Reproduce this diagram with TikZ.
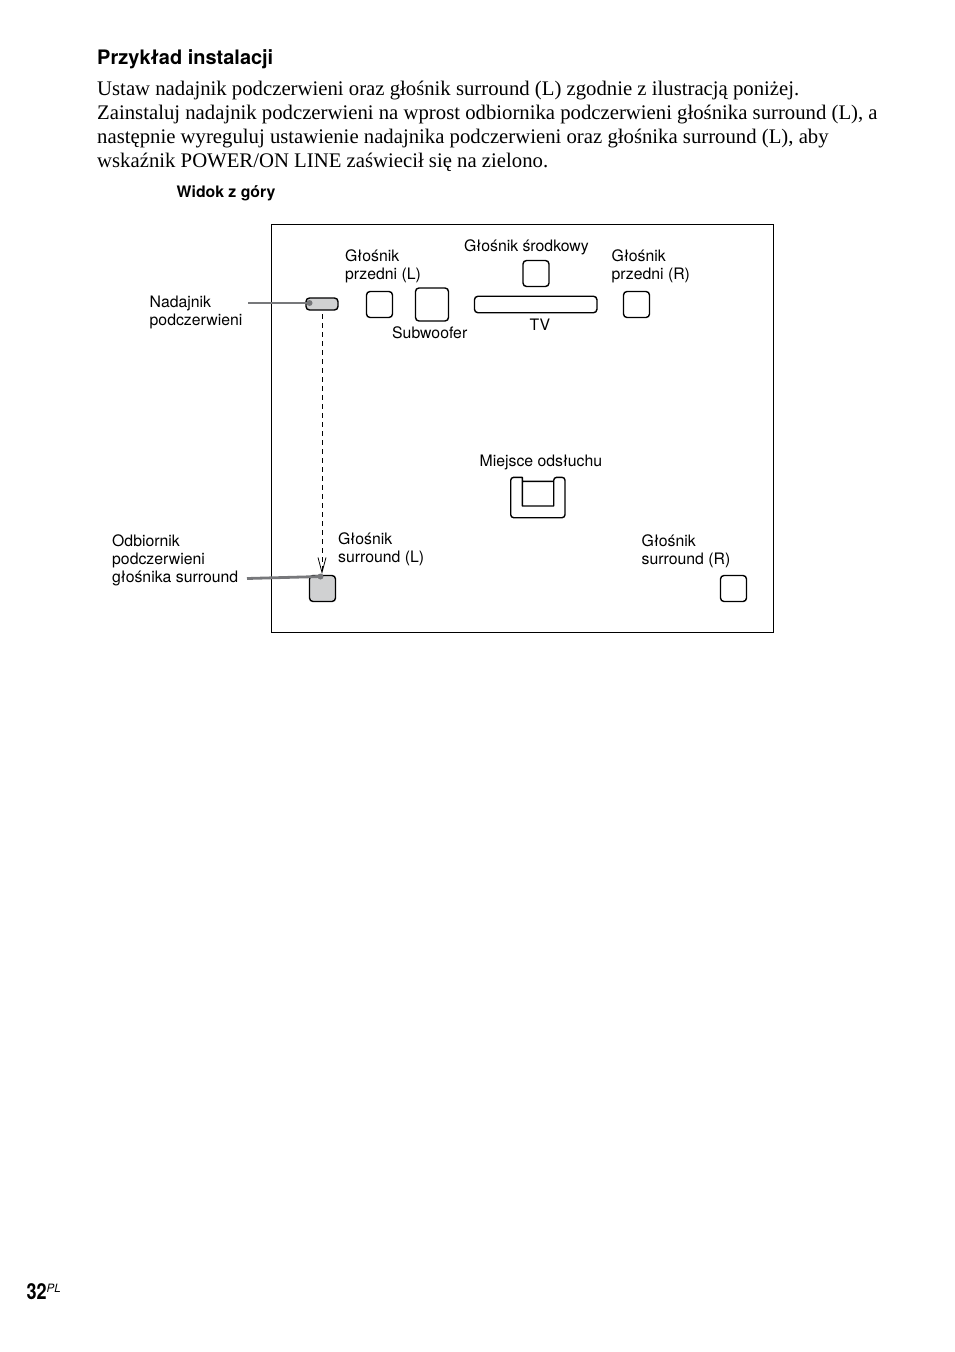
\documentclass[tikz,border=0pt]{standalone}
\usepackage{fontspec}
\usetikzlibrary{arrows.meta}
\setmainfont{Liberation Serif}
\newfontfamily\labelfont{TeX Gyre Heros}
\newfontfamily\pagefont[FakeStretch=0.82]{TeX Gyre Heros}
\definecolor{irgray}{HTML}{D0D1D2}
\definecolor{leadgray}{HTML}{77787B}
\tikzset{
    speaker/.style={draw, line width=1.4pt, rounded corners=3.5pt, minimum size=26pt, inner sep=0pt},
    irunit/.style={speaker, fill=irgray},
    caption/.style={anchor=base west, inner sep=0pt, align=left, font=\labelfont\fontsize{15.8}{18}\selectfont},
    leader/.style={draw=leadgray, line width=2.8pt},
    leaddot/.style={fill=leadgray, radius=3pt}
}
\begin{document}
\begin{tikzpicture}[x=1pt, y=-1pt]
    \useasboundingbox (0, 0) rectangle (954, 1352);
    \node[anchor=base west, inner sep=0pt, font=\labelfont\bfseries\fontsize{19.95}{24}\selectfont] (title) at (97, 64) {Przykład instalacji};
    \node[anchor=base west, inner sep=0pt, align=left, font=\fontsize{20.74}{24}\selectfont] (body) at (97, 167) {Ustaw nadajnik podczerwieni oraz głośnik surround (L) zgodnie z ilustracją poniżej.\\
        Zainstaluj nadajnik podczerwieni na wprost odbiornika podczerwieni głośnika surround (L), a\\
        następnie wyreguluj ustawienie nadajnika podczerwieni oraz głośnika surround (L), aby\\
        wskaźnik POWER/ON LINE zaświecił się na zielono.};
    \node[caption, font=\labelfont\bfseries\fontsize{15.8}{18}\selectfont] (topview) at (176.5, 197) {Widok z góry};
    \node[draw, line width=1pt, minimum width=502.5pt, minimum height=407.5pt, inner sep=0pt] (room) at (522.25, 428.25) {};
    % speakers
    \foreach \n/\p in {
        frontl/{379.5, 304.5},
        center/{536, 273.5},
        frontr/{636.5, 304.5},
        surrr/{733.5, 588.5}} {
        \node[speaker] (\n) at (\p) {};
    }
    \node[speaker, minimum size=33pt] (sub) at (432, 304.5) {};
    \node[speaker, minimum width=122.5pt, minimum height=16.5pt] (tv) at (535.7, 304.5) {};
    \node[irunit, minimum width=32pt, minimum height=12pt] (tx) at (322, 304) {};
    \node[irunit] (surrl) at (322.5, 588.5) {};
    % seat
    \draw[line width=1.4pt, line join=round]
        (522.3, 506) -- (522.3, 477.3) [rounded corners=3pt] -- (510.7, 477.3) -- (510.7, 517.7)
        -- (565, 517.7) -- (565, 477.3) -- (553.7, 477.3) [sharp corners] -- (553.7, 506) -- cycle
        (522.3, 481.3) -- (553.7, 481.3);
    % ir beam and leaders
    \coordinate (beamtop) at (322, 314);
    \coordinate (beamend) at (322, 574);
    \draw[line width=0.8pt, dash pattern=on 5pt off 4pt, -{Straight Barb[length=15pt, width=8pt]}] (beamtop) -- (beamend);
    \coordinate (txfree) at (248, 303);
    \coordinate (txdot) at (309.5, 303);
    \coordinate (rxfree) at (247, 578.5);
    \coordinate (rxdot) at (320.5, 576.5);
    \draw[leader] (txfree) -- (txdot);
    \draw[leader] (rxfree) -- (rxdot);
    \fill[leaddot] (txdot) circle[] (rxdot) circle[];
    % labels
    \foreach \n/\p/\v in {
        lfrontl/{345, 279.5}/{Głośnik\\przedni (L)},
        ltx/{149.5, 325}/{Nadajnik\\podczerwieni},
        lsub/{392, 338}/{Subwoofer},
        lcenter/{464, 251}/{Głośnik środkowy},
        lfrontr/{611.5, 279.5}/{Głośnik\\przedni (R)},
        ltv/{529.5, 330}/{TV},
        lseat/{479.5, 466}/{Miejsce odsłuchu},
        lrx/{112, 582}/{Odbiornik\\podczerwieni\\głośnika surround},
        lsurrl/{338, 562}/{Głośnik\\surround (L)},
        lsurrr/{641.5, 564}/{Głośnik\\surround (R)}} {
        \node[caption] (\n) at (\p) {\v};
    }
    \node[anchor=base west, inner sep=0pt, font=\pagefont\bfseries\fontsize{22}{24}\selectfont] (pagenum) at (26.5, 1299) {32};
    \node[anchor=base west, inner sep=0pt, font=\labelfont\itshape\fontsize{11.5}{12}\selectfont] (pagelang) at (46.5, 1292) {PL};
\end{tikzpicture}
\end{document}
